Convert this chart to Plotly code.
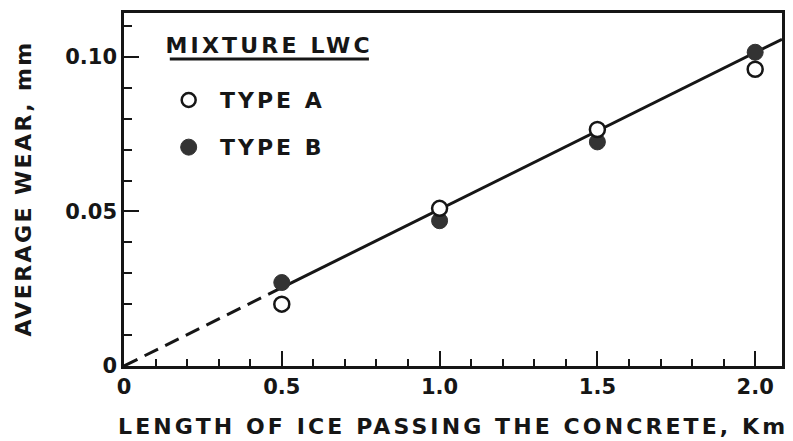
import plotly.graph_objects as go

# Wear measurements (mm) against length of ice passed over the concrete (km)
length_km = [0.5, 1.0, 1.5, 2.0]
wear_type_a = [0.020, 0.051, 0.0765, 0.096]
wear_type_b = [0.027, 0.047, 0.0725, 0.1015]

# Straight-line fit through the origin; dashed where it is extrapolated
FIT_SLOPE = 0.0507
FIT_BREAK = 0.5

X_RANGE = [0, 2.085]
Y_RANGE = [0, 0.1142]

x_ticks = [0, 0.5, 1.0, 1.5, 2.0]
x_tick_text = ["0", "0.5", "1.0", "1.5", "2.0"]
y_ticks = [0, 0.05, 0.10]
y_tick_text = ["0", "0.05", "0.10"]

INK = "#161616"
FILL = "#333333"
FONT = "DejaVu Sans"

fig = go.Figure()

# extrapolated part of the fit
fig.add_trace(go.Scatter(
    x=[0, FIT_BREAK], y=[0, FIT_SLOPE * FIT_BREAK],
    mode="lines", line=dict(color=INK, width=3, dash="15px,8px"),
    showlegend=False, hoverinfo="skip"))
# fitted part
fig.add_trace(go.Scatter(
    x=[FIT_BREAK, X_RANGE[1]], y=[FIT_SLOPE * FIT_BREAK, FIT_SLOPE * X_RANGE[1]],
    mode="lines", line=dict(color=INK, width=3),
    showlegend=False, hoverinfo="skip"))

fig.add_trace(go.Scatter(
    x=length_km, y=wear_type_b, mode="markers", name="TYPE B",
    marker=dict(symbol="circle", size=16, color=FILL, line=dict(color=FILL, width=1)),
    showlegend=False))
fig.add_trace(go.Scatter(
    x=length_km, y=wear_type_a, mode="markers", name="TYPE A",
    marker=dict(symbol="circle", size=15, color="white", line=dict(color=INK, width=2.5)),
    showlegend=False))

tick_font = dict(family=FONT, size=21, color=INK, weight="bold")

fig.update_xaxes(
    range=X_RANGE, showline=True, linewidth=2.5, linecolor=INK, mirror=True,
    showgrid=False, zeroline=False,
    tickvals=x_ticks, ticktext=x_tick_text,
    ticks="inside", ticklen=15, tickwidth=2, tickcolor=INK,
    minor=dict(ticks="inside", dtick=0.1, ticklen=7, tickwidth=2, tickcolor=INK),
    tickfont=tick_font)
fig.update_yaxes(
    range=Y_RANGE, showline=True, linewidth=2.5, linecolor=INK, mirror=True,
    showgrid=False, zeroline=False,
    tickvals=y_ticks, ticktext=y_tick_text,
    ticks="inside", ticklen=15, tickwidth=2, tickcolor=INK,
    minor=dict(ticks="inside", dtick=0.01, ticklen=8, tickwidth=2, tickcolor=INK),
    tickfont=tick_font)

label_font = dict(family=FONT, size=22, color=INK, weight="bold")

annotations = [
    dict(text="LENGTH OF ICE PASSING THE CONCRETE, Km", xref="paper", yref="paper",
         x=0.5, y=-0.17, xanchor="center", yanchor="middle", showarrow=False, font=label_font),
    dict(text="AVERAGE WEAR, mm", xref="paper", yref="paper", textangle=-90,
         x=-0.153, y=0.504, xanchor="center", yanchor="middle", showarrow=False, font=label_font),
    dict(text="MIXTURE LWC", xref="paper", yref="paper",
         x=0.2209, y=0.909, xanchor="center", yanchor="middle", showarrow=False, font=label_font),
    dict(text="TYPE A", xref="paper", yref="paper",
         x=0.2262, y=0.7535, xanchor="center", yanchor="middle", showarrow=False, font=label_font),
    dict(text="TYPE B", xref="paper", yref="paper",
         x=0.2262, y=0.620, xanchor="center", yanchor="middle", showarrow=False, font=label_font),
]

shapes = [
    # underline of the key heading
    dict(type="line", xref="paper", yref="paper", x0=0.0696, x1=0.3722, y0=0.870, y1=0.870,
         line=dict(color=INK, width=3)),
    # key symbols
    dict(type="circle", xref="paper", yref="paper", xsizemode="pixel", ysizemode="pixel",
         xanchor=0.0983, yanchor=0.7535, x0=-7, x1=7, y0=-7, y1=7,
         line=dict(color=INK, width=2.5), fillcolor="white"),
    dict(type="circle", xref="paper", yref="paper", xsizemode="pixel", ysizemode="pixel",
         xanchor=0.0983, yanchor=0.620, x0=-8, x1=8, y0=-8, y1=8,
         line=dict(color=FILL, width=1), fillcolor=FILL),
]

fig.update_layout(
    width=793, height=441,
    margin=dict(l=124, r=8, t=13, b=75),
    paper_bgcolor="white", plot_bgcolor="white",
    showlegend=False,
    annotations=annotations, shapes=shapes,
)

# wide tracking on the lettering (per annotation, in the order listed above)
spacing_js = (
    "var sp=['3.1px','2.4px','3.2px','3px','3px'];"
    "document.querySelectorAll('.annotation-text').forEach(function(t,i){"
    "t.style.letterSpacing=sp[i]||'3px';});"
)

fig.write_html("out.html", post_script=spacing_js)
